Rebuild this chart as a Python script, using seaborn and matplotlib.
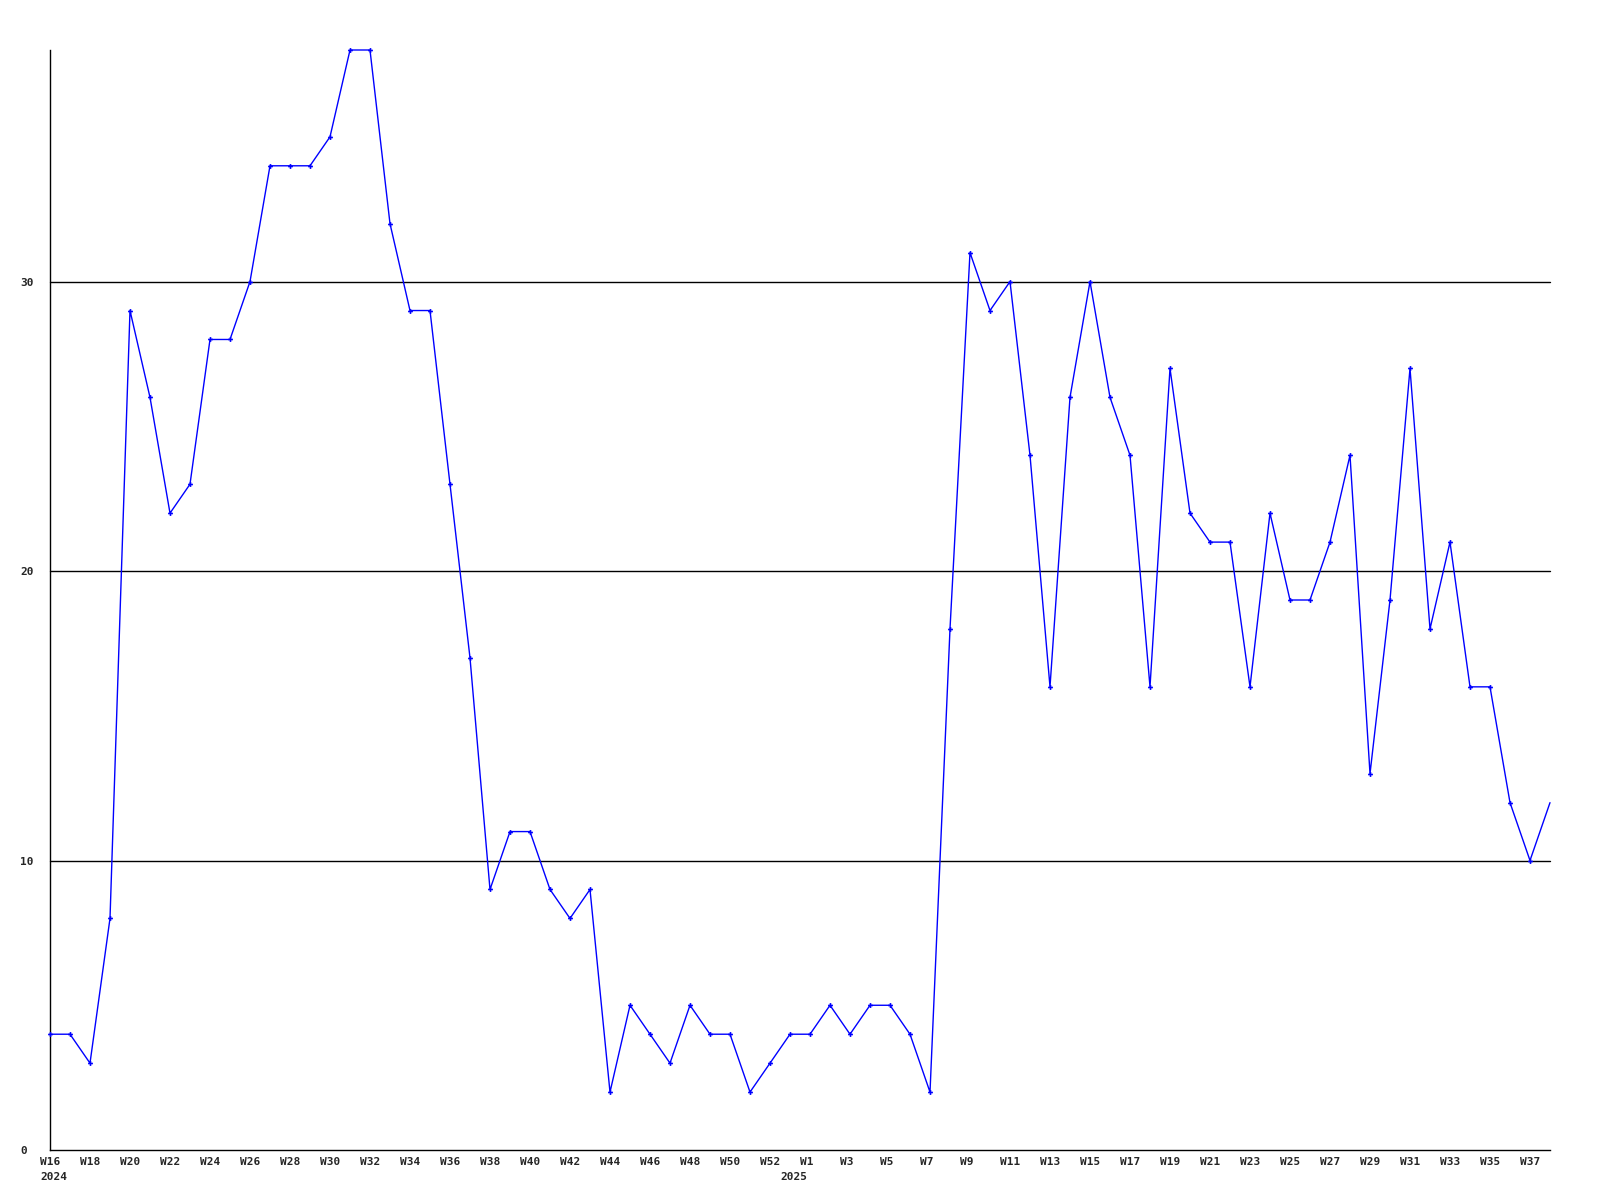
import pandas as pd
import seaborn as sns
import matplotlib
matplotlib.use('Agg')
from matplotlib import pyplot as plt
from matplotlib import transforms

# weekly counts, 2024 W16 .. 2025 W38 (2025 starts with a partial week 0)
weeks_2024 = ['W' + str(w) for w in range(16, 53)]
weeks_2025 = ['W' + str(w) for w in range(0, 39)]
counts_2024 = [4, 4, 3, 8, 29, 26, 22, 23, 28, 28, 30, 34, 34, 34, 35, 38, 38,
               32, 29, 29, 23, 17, 9, 11, 11, 9, 8, 9, 2, 5, 4, 3, 5, 4, 4, 2, 3]
counts_2025 = [4, 4, 5, 4, 5, 5, 4, 2, 18, 31, 29, 30, 24, 16, 26, 30, 26, 24,
               16, 27, 22, 21, 21, 16, 22, 19, 19, 21, 24, 13, 19, 27, 18, 21,
               16, 16, 12, 10, 12]
years = ['2024', '2025']
y_ticks = [0, 10, 20, 30]

labels = weeks_2024 + weeks_2025
counts = counts_2024 + counts_2025
df = pd.DataFrame({'idx': range(len(counts)), 'week': labels, 'count': counts})

sns.set_style('white')
plt.rcParams['font.family'] = ['DejaVu Sans Mono']
plt.rcParams['font.weight'] = 'bold'
plt.rcParams['font.size'] = 8

fig = plt.figure(figsize=(16, 12), dpi=100)
ax = fig.add_axes([50 / 1600, 50 / 1200, 1500 / 1600, 1100 / 1200])

for v in y_ticks[1:]:
    ax.axhline(v, color='black', lw=1, zorder=1)

sns.lineplot(data=df, x='idx', y='count', ax=ax, color='#0000ff', lw=1,
             marker='P', markersize=3.5, markeredgewidth=0, zorder=3,
             markevery=list(range(len(counts) - 1)))
for l in ax.lines:
    l.set_clip_on(False)

ax.set_xlim(0, len(counts) - 1)
ax.set_ylim(0, 38)
ax.set_xlabel('')
ax.set_ylabel('')

for s in ['top', 'right']:
    ax.spines[s].set_visible(False)
for s in ['left', 'bottom']:
    ax.spines[s].set_color('black')
    ax.spines[s].set_linewidth(1)

ax.set_yticks(y_ticks)
ax.set_yticklabels([str(v) for v in y_ticks])
ax.tick_params(axis='y', length=0, pad=21.6)
for t in ax.get_yticklabels():
    t.set_horizontalalignment('left')

# week labels every two weeks, skipping the partial week 0
ax.set_xticks([])
base = ax.get_xaxis_transform()
wk_tr = transforms.offset_copy(base, fig=fig, x=-10, y=-7, units='dots')
yr_tr = transforms.offset_copy(base, fig=fig, x=-10, y=-22, units='dots')
tick_idx = list(range(0, 37, 2)) + list(range(38, len(counts) - 1, 2))
for i in tick_idx:
    ax.text(i, 0, labels[i], transform=wk_tr, ha='left', va='top')
ax.text(0, 0, years[0], transform=yr_tr, ha='left', va='top')
ax.text(len(weeks_2024), 0, years[1], transform=yr_tr, ha='left', va='top')

fig.savefig('out.png', dpi=100)
